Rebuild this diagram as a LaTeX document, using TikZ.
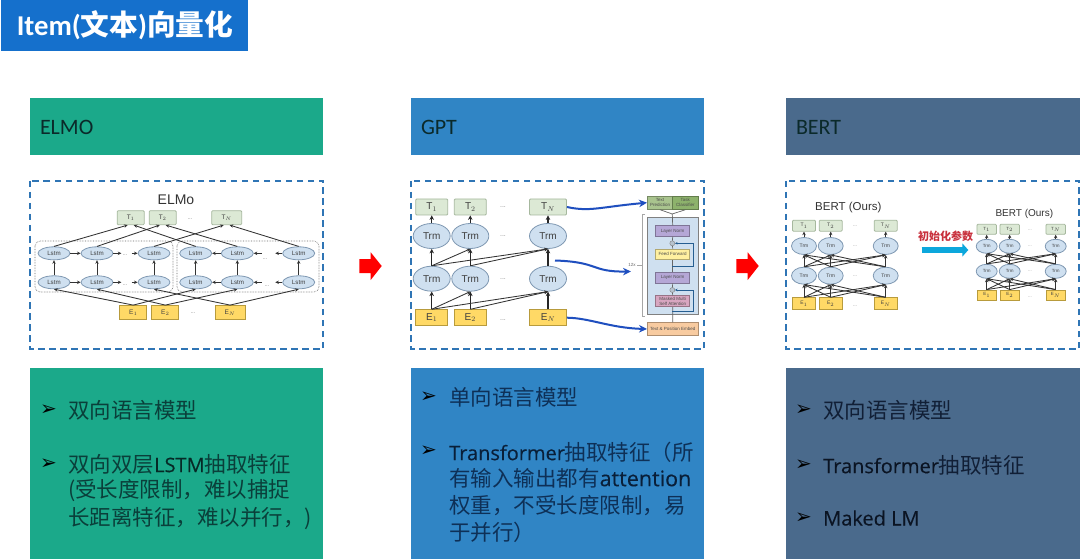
\documentclass[tikz,border=0pt]{standalone}
\usepackage{fontspec}
\setmainfont{Noto Sans CJK SC}
\newfontfamily\lat{Liberation Sans}
\newfontfamily\bulfont{DejaVu Sans}
\newfontfamily\carl{Carlito}
\newfontfamily\opn[FakeBold=0.25]{Open Sans}
\usetikzlibrary{arrows.meta,shapes.geometric,shapes.arrows,positioning}
\definecolor{cgreen}{HTML}{1BA98A}
\definecolor{cblue}{HTML}{3085C5}
\definecolor{cslate}{HTML}{4A6A8C}
\definecolor{ctitle}{HTML}{1570CC}
\definecolor{cdash}{HTML}{2F75B5}
\definecolor{ttxt}{HTML}{0B2A2A}
\definecolor{tfill}{HTML}{DCE9D5}
\definecolor{tline}{HTML}{A6B89E}
\definecolor{efill}{HTML}{FFD966}
\definecolor{eline}{HTML}{B89B3C}
\definecolor{lfill}{HTML}{CFE0F0}
\definecolor{lline}{HTML}{7F98B2}
\definecolor{gtxt}{HTML}{0A3F3A}
\definecolor{btxt}{HTML}{0E3057}
\definecolor{stxt}{HTML}{111F36}
\definecolor{lgra}{HTML}{A9C48E}
\definecolor{lgrb}{HTML}{8DB26C}
\definecolor{lvio}{HTML}{B5A7D6}
\definecolor{lyel}{HTML}{FFF0A0}
\definecolor{lpnk}{HTML}{D8A6C0}
\definecolor{lorg}{HTML}{F8CBA0}
\definecolor{ccyan}{HTML}{0CA7DC}
\definecolor{cinit}{HTML}{C8303C}
\definecolor{ccurve}{HTML}{1F4FBF}
\tikzset{
 hdr/.style={anchor=west,inner sep=0pt,outer sep=0pt,font=\carl\fontsize{22}{22}\selectfont,text=ttxt},
 panel/.style={draw=cdash,line width=1.5pt,dash pattern=on 6.5pt off 4.5pt},
 tb/.style={draw=tline,fill=tfill,rounded corners=1pt,inner sep=0pt,line width=.8pt,font=\lat\fontsize{#1}{#1}\selectfont,text=black!75},
 eb/.style={draw=eline,fill=efill,inner sep=0pt,line width=.8pt,font=\lat\fontsize{#1}{#1}\selectfont,text=black!75},
 el/.style={draw=lline,fill=lfill,ellipse,inner sep=0pt,line width=.8pt,font=\lat\fontsize{#1}{#1}\selectfont,text=black!75},
 ar/.style={draw=black!85,line width=1.1pt,-{Stealth[length=4.5pt,width=4.5pt]}},
 ars/.style={draw=black!80,line width=.85pt,-{Stealth[length=3.6pt,width=3.4pt]}},
 dots/.style={font=\lat\fontsize{#1}{#1}\selectfont,text=black!45,inner sep=0pt},
 bul/.style={anchor=west,inner sep=0pt,font=\fontsize{21.5}{21.5}\selectfont},
 mk/.style={anchor=west,inner sep=0pt,text=black,font=\bulfont\fontsize{20}{20}\selectfont},
 redar/.style={fill=red,draw=none},
 bluec/.style={draw=ccurve,line width=2pt,-{Stealth[length=8pt,width=7.5pt]}},
 lay/.style={draw=#1!70!black,fill=#1,line width=.7pt,inner sep=0pt,font=\lat\fontsize{4.5}{5}\selectfont,align=center,text=black!70},
}
\newcommand{\latn}[2][20]{{\opn\fontsize{#1}{#1}\selectfont\color{black!35!.} #2}}
\begin{document}
\begin{tikzpicture}[x=1pt,y=-1pt]
\useasboundingbox (0,0) rectangle (1080,559);
\fill[white] (0,0) rectangle (1080,559);
% title
\node[fill=ctitle,anchor=north west,minimum width=247pt,minimum height=51pt,inner sep=0pt,outer sep=0pt] (title) at (1,0) {};
\node[text=white,font=\bfseries\fontsize{28.7}{29}\selectfont,inner sep=0pt] (titlet) at (125,25) {{\carl Item(}文本{\carl )}向量化};
% headers
\fill[cgreen] (30,98) rectangle (323,155);
\fill[cblue] (411,98) rectangle (704,155);
\fill[cslate] (786,98) rectangle (1080,155);
\node[hdr] (h1) at (40,127) {ELMO};
\node[hdr] (h2) at (421,127) {GPT};
\node[hdr] (h3) at (796,127) {BERT};
% panels
\draw[panel] (30,181) rectangle (323,349);
\draw[panel] (411,181) rectangle (704,349);
\draw[panel] (786,181) rectangle (1079,349);
% bottom
\fill[cgreen] (30,368) rectangle (323,559);
\fill[cblue] (411,368) rectangle (704,559);
\fill[cslate] (786,368) rectangle (1080,559);
% red arrows
\foreach \x in {359.3,736.3}
  \fill[redar] (\x,259) -- ++(11.4,0) -- ++(0,-6.7) -- ++(11,13.7) -- ++(-11,14) -- ++(0,-7) -- ++(-11.4,0) -- cycle;
% bullets
\foreach \n/\x/\y in {a/40/410,b/40/464,c/420/397,d/420/451,e/795/410,f/795/465,g/795/518}
  \node[mk] (mk\n) at (\x,\y) {➢};
\begin{scope}[every node/.append style={bul,text=gtxt}]
\node (b1a) at (68,410) {双向语言模型};
\node (b1b) at (68,464) {双向双层\latn{LSTM}抽取特征};
\node (b1c) at (68,491) {(受长度限制，难以捕捉};
\node (b1d) at (68,518) {长距离特征，难以并行，)};
\end{scope}
\begin{scope}[every node/.append style={bul,text=btxt}]
\node (b2a) at (449,397) {单向语言模型};
\node (b2b) at (449,452) {\latn{Transformer}抽取特征（所};
\node (b2c) at (449,478) {有输入输出都有\latn[21.5]{attention}};
\node (b2d) at (449,505.5) {权重，不受长度限制，易};
\node (b2e) at (449,532) {于并行）};
\end{scope}
\begin{scope}[every node/.append style={bul,text=stxt}]
\node (b3a) at (823,410) {双向语言模型};
\node (b3b) at (823,465) {\latn{Transformer}抽取特征};
\node (b3c) at (823,518) {\latn{Maked LM}};
\end{scope}

% ===== ELMo =====
\node[font=\lat\fontsize{14}{14}\selectfont,text=black!80,inner sep=0pt] (etitle) at (176,200) {ELMo};
\draw[black!60,densely dotted,rounded corners=5pt,line width=.6pt] (35,241) rectangle (173,292);
\draw[black!60,densely dotted,rounded corners=5pt,line width=.6pt] (177,241) rectangle (319,292);
\foreach \n/\t/\x/\w in {t1/T$_1$/130.7/27,t2/T$_2$/162.7/27,tn/T$_N$/226.7/30}
  \node[tb=6.5,minimum width=\w pt,minimum height=14pt] (e\n) at (\x,217.7) {\t};
\foreach \n/\t/\x/\w in {1/E$_1$/133.3/27,2/E$_2$/165.3/27,n/E$_N$/230/30}
  \node[eb=6.5,minimum width=\w pt,minimum height=14pt] (ee\n) at (\x,312.5) {\t};
\foreach \i/\x in {1/54,2/97,3/154,4/195.7,5/237.3,6/298.7}{
  \node[el=6.2,minimum width=32pt,minimum height=13pt] (u\i) at (\x,253.3) {Lstm};
  \node[el=6.2,minimum width=32pt,minimum height=13pt] (d\i) at (\x,282.3) {Lstm};
  \draw[ars] (d\i) -- (u\i);
}
\foreach \r in {u,d}{
  \draw[ars] (\r1) -- (\r2);
  \draw[ars] (\r5) -- (\r4);
  \draw[ars] (\r2.east) -- ++(8pt,0);
  \draw[ars] ([xshift=-6pt]\r3.west) -- (\r3);
  \draw[ars] (\r6.west) -- ++(-7pt,0);
  \draw[ars] ([xshift=8pt]\r5.east) -- (\r5);
}
\draw[ars] (u1.north) -- ([xshift=-3pt]et1.south);
\draw[ars] (u2.north) -- ([xshift=-3pt]et2.south);
\draw[ars] (u3.north) -- ([xshift=-3pt]etn.south);
\draw[ars] (u4.north) -- ([xshift=3pt]et1.south);
\draw[ars] (u5.north) -- ([xshift=3pt]et2.south);
\draw[ars] (u6.north) -- ([xshift=3pt]etn.south);
\draw[ars] (ee1.north) -- (d1.south);
\draw[ars] (ee2.north) -- (d2.south);
\draw[ars] (een.north) -- (d3.south);
\draw[ars] (ee1.north) -- (d4.south);
\draw[ars] (ee2.north) -- (d5.south);
\draw[ars] (een.north) -- (d6.south);
\node[dots=6] (ed1) at (190,219) {...};
\node[dots=6] (ed2) at (193,313) {...};
\node[dots=6] (ed3) at (125,255) {...};
\node[dots=6] (ed4) at (125,285) {...};
\node[dots=6] (ed5) at (265,259) {...};
\node[dots=6] (ed6) at (267,286) {...};

% ===== GPT left =====
\foreach \n/\t/\x/\w in {1/T$_1$/431.7/32,2/T$_2$/470.3/32,n/T$_N$/548/37}{
  \node[tb=10,minimum width=\w pt,minimum height=16pt] (gt\n) at (\x,207) {\t};
  \node[el=10,minimum width=37pt,minimum height=25pt] (gu\n) at (\x,236) {Trm};
  \node[el=10,minimum width=37pt,minimum height=25pt] (gd\n) at (\x,278.7) {Trm};
  \draw[ar] (gu\n) -- (gt\n);
  \draw[ar] (gd\n) -- (gu\n);
}
\foreach \n/\t/\x/\w in {1/E$_1$/431.7/32,2/E$_2$/470.3/32,n/E$_N$/548/37}{
  \node[eb=10,minimum width=\w pt,minimum height=16pt] (ge\n) at (\x,317.7) {\t};
  \draw[ar] (ge\n) -- (gd\n);
}
\draw[ars] (gd1.north) -- (gu2.south);
\draw[ars] (gd1.north) -- (gun.south);
\draw[ars] (gd2.north) -- (gun.south);
\draw[ars] (ge1.north) -- (gd2.south);
\draw[ars] (ge1.north) -- (gdn.south);
\draw[ars] (ge2.north) -- (gdn.south);
\foreach \y/\k in {207/a,236/b,278.7/c,320/d}
  \node[dots=7] (gdot\k) at (503,\y) {...};
% GPT right
\node[lay=lgra,anchor=north west,minimum width=25.3pt,minimum height=13.3pt] (tp) at (647,195.7) {Text\\Prediction};
\node[lay=lgrb,anchor=north west,minimum width=25.4pt,minimum height=13.3pt] (tc) at (672.3,195.7) {Task\\Classifier};
\node[draw=black!50,fill=lfill,line width=1pt,anchor=north west,minimum width=50.7pt,minimum height=97.6pt,inner sep=0pt] (stack) at (647,216.7) {};
\node[lay=lvio,minimum width=34pt,minimum height=10.6pt] (ln1) at (672.7,231) {Layer Norm};
\node[circle,draw=black!50,fill=lfill!70!gray,minimum size=5pt,inner sep=0pt] (c1) at (672.3,243.3) {};
\node[lay=lyel,minimum width=34pt,minimum height=10.7pt] (ff) at (672.7,254.3) {Feed Forward};
\node[lay=lvio,minimum width=34pt,minimum height=10.7pt] (ln2) at (672.7,277.6) {Layer Norm};
\node[circle,draw=black!50,fill=lfill!70!gray,minimum size=5pt,inner sep=0pt] (c2) at (672.3,290) {};
\node[lay=lpnk,minimum width=34pt,minimum height=11pt] (msa) at (672.7,301.2) {Masked Multi\\Self Attention};
\node[lay=lorg,anchor=north west,minimum width=50.7pt,minimum height=12.7pt] (emb) at (647,322.3) {Text \& Position Embed};
\coordinate (tj) at (672.3,214);
\draw[black!60,line width=.7pt] (emb.north) -- (msa.south);
\draw[black!60,line width=.7pt] (msa.north) -- (c2);
\draw[black!60,line width=.7pt] (c2) -- (ln2.south);
\draw[black!60,line width=.7pt] (ln2.north) -- (ff.south);
\draw[black!60,line width=.7pt] (ff.north) -- (c1);
\draw[black!60,line width=.7pt] (c1) -- (ln1.south);
\draw[black!60,line width=.7pt] (ln1.north) -- (tj);
\draw[black!60,line width=.7pt] (tj) -- (tp.south);
\draw[black!60,line width=.7pt] (tj) -- (tc.south);
\draw[cdash!80!black,line width=.7pt,-{Stealth[length=2.5pt,width=2.5pt]}] (672.3,266) -- (693,266) -- (693,243.3) -- (c1);
\draw[cdash!80!black,line width=.7pt,-{Stealth[length=2.5pt,width=2.5pt]}] (672.3,311) -- (693,311) -- (693,290) -- (c2);
\draw[black!35,line width=.6pt] (645,214.3) -- (642,214.3) -- (642,316.3) -- (645,316.3);
\node[font=\lat\fontsize{4.5}{5}\selectfont,text=black!60,inner sep=0pt] (twelve) at (632,265.3) {12x};
\draw[black!35,line width=.5pt] (637,265.3) -- (642,265.3);
% blue curves
\draw[bluec] (gtn.east) .. controls (590,212) and (600,207) .. (tp.west);
\coordinate (cmid) at (555,260.5);
\coordinate (cend) at (631,271.5);
\draw[bluec] (cmid) .. controls (600,262) and (590,272) .. (cend);
\draw[bluec] (gen.east) .. controls (590,318) and (610,328) .. (emb.west);

% ===== BERT left =====
\node[font=\lat\fontsize{11.5}{12}\selectfont,text=black!80,inner sep=0pt] (bt1) at (848.3,207.3) {BERT (Ours)};
\foreach \n/\s/\x in {1/1/804,2/2/830.7,n/N/885.7}{
  \node[tb=5,minimum width=23pt,minimum height=11pt] (at\n) at (\x,225.7) {T$_{\s}$};
  \node[el=5,minimum width=25pt,minimum height=17pt] (au\n) at (\x,246) {Trm};
  \node[el=5,minimum width=25pt,minimum height=17pt] (ad\n) at (\x,275.7) {Trm};
  \node[eb=5,minimum width=23pt,minimum height=12pt] (ae\n) at (\x,303.7) {E$_{\s}$};
  \draw[ars] (au\n) -- (at\n);
  \draw[ars] (ad\n) -- (au\n);
  \draw[ars] (ae\n) -- (ad\n);
}
\foreach \a/\b in {1/2,1/n,2/1,2/n,n/1,n/2}{
  \draw[ars] (ad\a.north) -- (au\b.south);
  \draw[ars] (ae\a.north) -- (ad\b.south);
}
\foreach \y/\k in {226/a,246/b,276/c,306/d}
  \node[dots=5] (adot\k) at (855,\y) {...};
% ===== BERT right =====
\node[font=\lat\fontsize{10}{10}\selectfont,text=black!80,inner sep=0pt] (bt2) at (1024.3,213.7) {BERT (Ours)};
\foreach \n/\s/\x in {1/1/986.7,2/2/1009.7,n/N/1055.7}{
  \node[tb=4.5,minimum width=19.5pt,minimum height=10pt] (ct\n) at (\x,229.3) {T$_{\s}$};
  \node[el=4.5,minimum width=21pt,minimum height=14pt] (cu\n) at (\x,246.3) {Trm};
  \node[el=4.5,minimum width=21pt,minimum height=14pt] (cd\n) at (\x,271.3) {Trm};
  \node[eb=4.5,minimum width=19.5pt,minimum height=10pt] (ce\n) at (\x,295) {E$_{\s}$};
  \draw[ars] (cu\n) -- (ct\n);
  \draw[ars] (cd\n) -- (cu\n);
  \draw[ars] (ce\n) -- (cd\n);
}
\foreach \a/\b in {1/2,1/n,2/1,2/n,n/1,n/2}{
  \draw[ars] (cd\a.north) -- (cu\b.south);
  \draw[ars] (ce\a.north) -- (cd\b.south);
}
\foreach \y/\k in {230/a,246/b,271/c,297/d}
  \node[dots=4.5] (cdot\k) at (1030,\y) {...};
% init arrow
\node[font=\bfseries\fontsize{11}{12}\selectfont,text=cinit,inner sep=0pt] (init) at (945.7,236) {初始化参数};
\coordinate (ia) at (921.7,250);
\coordinate (ib) at (968.3,250);
\draw[-{Triangle[length=6pt,width=13pt]},ccyan,line width=6.5pt] (ia) -- (ib);
\end{tikzpicture}
\end{document}
